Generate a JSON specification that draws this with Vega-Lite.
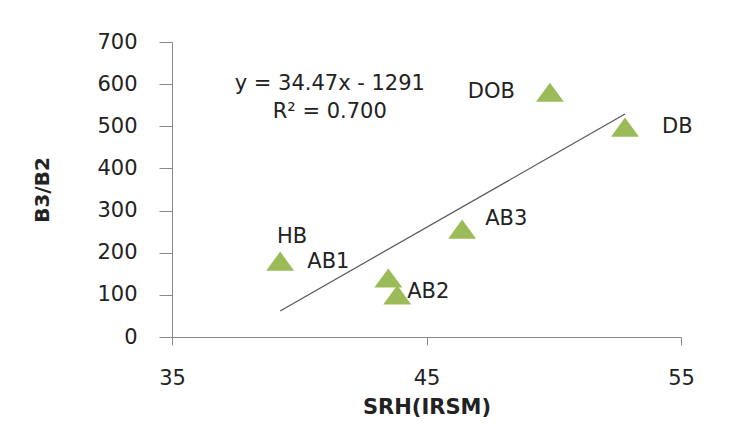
{
  "$schema": "https://vega.github.io/schema/vega-lite/v6.json",
  "width": 509,
  "height": 295,
  "autosize": "none",
  "padding": {"left": 172, "top": 42, "right": 49, "bottom": 87},
  "background": "white",
  "config": {
    "view": {"stroke": null},
    "font": "DejaVu Sans"
  },
  "datasets": {
    "points": [
      {"srh": 39.25, "ratio": 180, "label": "HB"},
      {"srh": 43.5, "ratio": 140, "label": "AB1"},
      {"srh": 43.85, "ratio": 100, "label": "AB2"},
      {"srh": 46.4, "ratio": 256, "label": "AB3"},
      {"srh": 49.85, "ratio": 581, "label": "DOB"},
      {"srh": 52.8, "ratio": 498, "label": "DB"}
    ],
    "trend": [
      {"srh": 39.25, "ratio": 61.9},
      {"srh": 52.8, "ratio": 529.0}
    ]
  },
  "layer": [
    {
      "data": {"name": "trend"},
      "mark": {"type": "line", "color": "#555555", "strokeWidth": 1.2},
      "encoding": {
        "x": {
          "field": "srh", "type": "quantitative",
          "scale": {"domain": [35, 55], "nice": false, "zero": false},
          "axis": {
            "values": [35, 45, 55],
            "title": "SRH(IRSM)",
            "titleFont": "DejaVu Sans", "titleFontWeight": "bold", "titleFontSize": 21, "titleColor": "#222222",
            "titlePadding": 8,
            "labelFont": "DejaVu Sans", "labelFontSize": 21, "labelColor": "#222222",
            "labelPadding": 22, "labelFlush": false,
            "tickSize": 8, "tickColor": "#888888", "domainColor": "#888888",
            "grid": false
          }
        },
        "y": {
          "field": "ratio", "type": "quantitative",
          "scale": {"domain": [0, 700], "nice": false},
          "axis": {
            "values": [0, 100, 200, 300, 400, 500, 600, 700],
            "title": "B3/B2",
            "titleFont": "DejaVu Sans", "titleFontWeight": "bold", "titleFontSize": 20, "titleColor": "#222222",
            "titlePadding": 44,
            "labelFont": "DejaVu Sans", "labelFontSize": 21, "labelColor": "#222222",
            "labelPadding": 22, "labelFlush": false,
            "tickSize": 13, "tickColor": "#888888", "domainColor": "#888888",
            "grid": false
          }
        }
      }
    },
    {
      "data": {"name": "points"},
      "mark": {
        "type": "point", "filled": true, "opacity": 1,
        "shape": "M-1,0.68L0,-0.68L1,0.68Z",
        "size": 784, "color": "#9BBB59"
      },
      "encoding": {
        "x": {"field": "srh", "type": "quantitative"},
        "y": {"field": "ratio", "type": "quantitative"}
      }
    },
    {
      "data": {"name": "points"},
      "transform": [{"filter": "datum.label === 'HB'"}],
      "mark": {"type": "text", "fontSize": 21, "color": "#222222", "align": "center", "baseline": "middle", "dx": 12, "dy": -24},
      "encoding": {
        "x": {"field": "srh", "type": "quantitative"},
        "y": {"field": "ratio", "type": "quantitative"},
        "text": {"field": "label"}
      }
    },
    {
      "data": {"name": "points"},
      "transform": [{"filter": "datum.label === 'AB1'"}],
      "mark": {"type": "text", "fontSize": 21, "color": "#222222", "align": "left", "baseline": "middle", "dx": -81, "dy": -16},
      "encoding": {
        "x": {"field": "srh", "type": "quantitative"},
        "y": {"field": "ratio", "type": "quantitative"},
        "text": {"field": "label"}
      }
    },
    {
      "data": {"name": "points"},
      "transform": [{"filter": "datum.label === 'AB2'"}],
      "mark": {"type": "text", "fontSize": 21, "color": "#222222", "align": "left", "baseline": "middle", "dx": 10, "dy": -3},
      "encoding": {
        "x": {"field": "srh", "type": "quantitative"},
        "y": {"field": "ratio", "type": "quantitative"},
        "text": {"field": "label"}
      }
    },
    {
      "data": {"name": "points"},
      "transform": [{"filter": "datum.label === 'AB3'"}],
      "mark": {"type": "text", "fontSize": 21, "color": "#222222", "align": "left", "baseline": "middle", "dx": 23, "dy": -10},
      "encoding": {
        "x": {"field": "srh", "type": "quantitative"},
        "y": {"field": "ratio", "type": "quantitative"},
        "text": {"field": "label"}
      }
    },
    {
      "data": {"name": "points"},
      "transform": [{"filter": "datum.label === 'DOB'"}],
      "mark": {"type": "text", "fontSize": 21, "color": "#222222", "align": "right", "baseline": "middle", "dx": -35, "dy": 0},
      "encoding": {
        "x": {"field": "srh", "type": "quantitative"},
        "y": {"field": "ratio", "type": "quantitative"},
        "text": {"field": "label"}
      }
    },
    {
      "data": {"name": "points"},
      "transform": [{"filter": "datum.label === 'DB'"}],
      "mark": {"type": "text", "fontSize": 21, "color": "#222222", "align": "left", "baseline": "middle", "dx": 37, "dy": 0},
      "encoding": {
        "x": {"field": "srh", "type": "quantitative"},
        "y": {"field": "ratio", "type": "quantitative"},
        "text": {"field": "label"}
      }
    },
    {
      "data": {"values": [{}]},
      "mark": {"type": "text", "fontSize": 21, "color": "#222222", "align": "center", "baseline": "middle", "lineHeight": 28},
      "encoding": {
        "x": {"datum": 41.2, "type": "quantitative"},
        "y": {"datum": 600, "type": "quantitative"},
        "text": {"value": ["y = 34.47x - 1291", "R² = 0.700"]}
      }
    }
  ]
}
